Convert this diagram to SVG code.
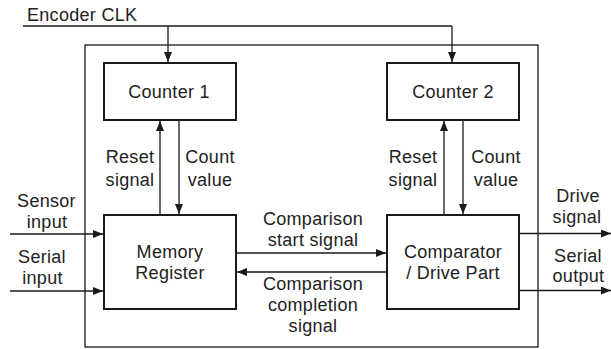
<svg xmlns="http://www.w3.org/2000/svg" width="611" height="349" viewBox="0 0 611 349">
  <style>
    .box { fill: #ffffff; stroke: #1a1a1a; stroke-width: 2; }
    .frame { fill: none; stroke: #1a1a1a; stroke-width: 1.3; }
    .wire { fill: none; stroke: #1a1a1a; stroke-width: 1.3; marker-end: url(#arrow); }
    .plain { fill: none; stroke: #1a1a1a; stroke-width: 1.3; }
    text { font-family: "Liberation Sans", Arial, sans-serif; font-size: 18px; letter-spacing: 0.3px; fill: #222222; text-anchor: middle; }
    .left { text-anchor: start; }
  </style>
  <defs>
    <marker id="arrow" viewBox="0 0 10 8" refX="10" refY="4" markerWidth="10" markerHeight="8" markerUnits="userSpaceOnUse" orient="auto">
      <path d="M0,0 L10,4 L0,8 Z" fill="#1a1a1a"/>
    </marker>
  </defs>

  <!-- enclosing frame -->
  <rect class="frame" x="85" y="45" width="453" height="302"/>

  <g id="encoder-clk">
    <text class="left" x="27" y="21">Encoder CLK</text>
  </g>

  <g id="counter1">
    <rect class="box" x="104" y="63" width="132" height="57"/>
    <text x="169" y="98">Counter 1</text>
  </g>

  <g id="counter2">
    <rect class="box" x="387" y="63" width="132" height="57"/>
    <text x="453" y="98">Counter 2</text>
  </g>

  <g id="memory-register">
    <rect class="box" x="104" y="215" width="132" height="94"/>
    <text x="170" y="257.5">Memory</text>
    <text x="170" y="278.5">Register</text>
  </g>

  <g id="comparator">
    <rect class="box" x="387" y="215" width="132" height="94"/>
    <text x="453" y="257.5">Comparator</text>
    <text x="453" y="278.5">/ Drive Part</text>
  </g>

  <g id="connectors">
    <!-- clock bus -->
    <polyline class="plain" points="23,26 452,26"/>
    <line class="wire" x1="168" y1="26" x2="168" y2="62"/>
    <line class="wire" x1="452" y1="26" x2="452" y2="62"/>

    <!-- counter 1 <-> memory register -->
    <line class="wire" x1="160" y1="214" x2="160" y2="121"/>
    <line class="wire" x1="179" y1="121" x2="179" y2="214"/>

    <!-- counter 2 <-> comparator -->
    <line class="wire" x1="444" y1="214" x2="444" y2="121"/>
    <line class="wire" x1="463" y1="121" x2="463" y2="214"/>

    <!-- external inputs -->
    <line class="wire" x1="10" y1="234" x2="103" y2="234"/>
    <line class="wire" x1="10" y1="291" x2="103" y2="291"/>

    <!-- comparison handshake -->
    <line class="wire" x1="237" y1="253" x2="386" y2="253"/>
    <line class="wire" x1="386" y1="272" x2="237" y2="272"/>

    <!-- outputs -->
    <line class="wire" x1="520" y1="233.5" x2="611" y2="233.5"/>
    <line class="wire" x1="520" y1="290.5" x2="611" y2="290.5"/>
  </g>

  <g id="labels">
    <text x="130" y="163">Reset</text>
    <text x="130" y="186">signal</text>
    <text x="210" y="163">Count</text>
    <text x="210" y="186">value</text>

    <text x="413" y="163">Reset</text>
    <text x="413" y="186">signal</text>
    <text x="496" y="163">Count</text>
    <text x="496" y="186">value</text>

    <text x="46.5" y="207">Sensor</text>
    <text x="47" y="228">input</text>
    <text x="42" y="263">Serial</text>
    <text x="42.5" y="284">input</text>

    <text x="313" y="225">Comparison</text>
    <text x="313" y="246">start signal</text>
    <text x="313" y="289.5">Comparison</text>
    <text x="313" y="310.5">completion</text>
    <text x="313" y="332">signal</text>

    <text x="578" y="201.5">Drive</text>
    <text x="577" y="223">signal</text>
    <text x="578" y="261.5">Serial</text>
    <text x="578.5" y="282">output</text>
  </g>
</svg>
